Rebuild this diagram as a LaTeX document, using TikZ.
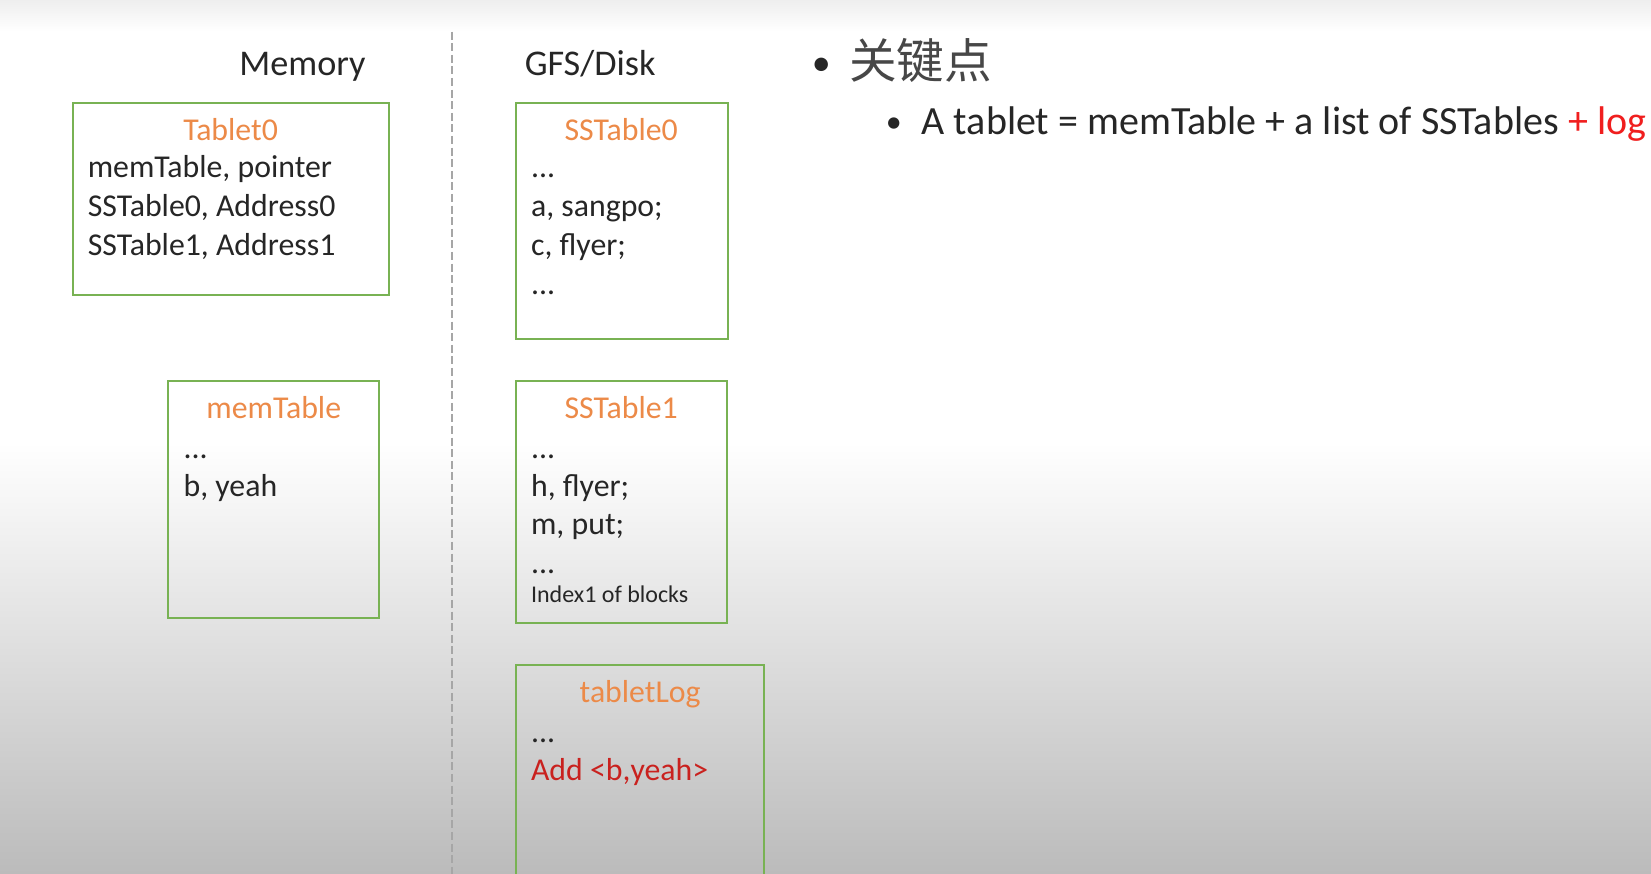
\documentclass[tikz,border=0pt]{standalone}
\usepackage{fontspec}
\setmainfont{Carlito}
\newfontfamily\cjk{Noto Sans CJK SC}
\definecolor{boxgreen}{HTML}{78B253}
\definecolor{ttl}{HTML}{EC8A48}
\definecolor{txt}{HTML}{262626}
\definecolor{logred}{HTML}{C9211E}
\definecolor{plusred}{HTML}{F01E1E}
\definecolor{divgray}{HTML}{A6A6A6}
\definecolor{bgbot}{HTML}{BBBBBB}
\definecolor{bgtop}{HTML}{EEEEEE}
\begin{document}
\begin{tikzpicture}[x=0.52647pt,y=-0.52647pt,
  box/.style={draw=boxgreen, line width=1pt, anchor=north west, inner sep=0pt, outer sep=0pt},
  lbl/.style={anchor=base west, inner sep=0pt, text=txt, font=\fontsize{15.9}{19}\selectfont},
  small/.style={anchor=base west, inner sep=0pt, text=txt, font=\fontsize{12}{14}\selectfont},
  ttlstyle/.style={anchor=base, inner sep=0pt, text=ttl, font=\fontsize{15.9}{19}\selectfont},
  head/.style={anchor=base west, inner sep=0pt, text=txt, font=\fontsize{18.1}{21}\selectfont},
  divider/.style={draw=divgray, line width=1pt, dash pattern=on 4pt off 1.8pt}]
\useasboundingbox (0,0) rectangle (1568,830);
% background
\shade[top color=bgtop, bottom color=white] (0,0) rectangle (1568,30);
\fill[white] (0,30) rectangle (1568,421);
\shade[top color=white, bottom color=bgbot] (0,420) rectangle (1568,830);
% divider
\coordinate (dtop) at (429,30);
\coordinate (dbot) at (429,830);
\draw[divider] (dtop) -- (dbot);
% headings
\node[head] (hmem) at (227,72) {Memory};
\node[head] (hgfs) at (498,72) {GFS/Disk};
% boxes
\node[box, minimum width=158pt, minimum height=95.8pt] (tablet) at (69,98) {};
\node[box, minimum width=105.3pt, minimum height=118.4pt] (memt) at (160,362) {};
\node[box, minimum width=105.8pt, minimum height=117.9pt] (ss0) at (490,98) {};
\node[box, minimum width=105.3pt, minimum height=121pt] (ss1) at (490,362) {};
\node[box, minimum width=124.2pt, minimum height=150pt] (tlog) at (490,632) {};
% Tablet0
\node[ttlstyle] (t0t) at (219,133) {Tablet0};
\node[lbl] (t0a) at (83,169) {memTable, pointer};
\node[lbl] (t0b) at (83,206) {SSTable0, Address0};
\node[lbl] (t0c) at (83,243) {SSTable1, Address1};
% SSTable0
\node[ttlstyle] (s0t) at (590,133) {SSTable0};
\node[lbl] (s0a) at (504,169) {...};
\node[lbl] (s0b) at (504,206) {a, sangpo;};
\node[lbl] (s0c) at (504,243) {c, flyer;};
\node[lbl] (s0d) at (504,280) {...};
% memTable
\node[ttlstyle] (mtt) at (260,397) {memTable};
\node[lbl] (mta) at (174,435) {...};
\node[lbl] (mtb) at (174,472) {b, yeah};
% SSTable1
\node[ttlstyle] (s1t) at (590,397) {SSTable1};
\node[lbl] (s1a) at (504,435) {...};
\node[lbl] (s1b) at (504,472) {h, flyer;};
\node[lbl] (s1c) at (504,508) {m, put;};
\node[lbl] (s1d) at (504,545) {...};
\node[small] (s1e) at (504,572) {Index1 of blocks};
% tabletLog
\node[ttlstyle] (tlt) at (608,667) {tabletLog};
\node[lbl] (tla) at (504,705) {...};
\node[lbl, text=logred] (tlb) at (504,741) {Add <b,yeah>};
% right side bullets
\node[anchor=base, inner sep=0pt, text=txt, font=\fontsize{19}{21}\selectfont] (b1) at (780,72) {•};
\node[anchor=base west, inner sep=0pt, text=txt!85, font=\cjk\fontsize{23.8}{28}\selectfont] (kp) at (806,75) {关键点};
\node[anchor=base, inner sep=0pt, text=txt, font=\fontsize{16}{19}\selectfont] (b2) at (849,126) {•};
\node[anchor=base west, inner sep=0pt, text=txt, font=\fontsize{20}{24}\selectfont] (tl) at (875,128) {A tablet = memTable + a list of SSTables \textcolor{plusred}{+ log}};
\end{tikzpicture}
\end{document}
